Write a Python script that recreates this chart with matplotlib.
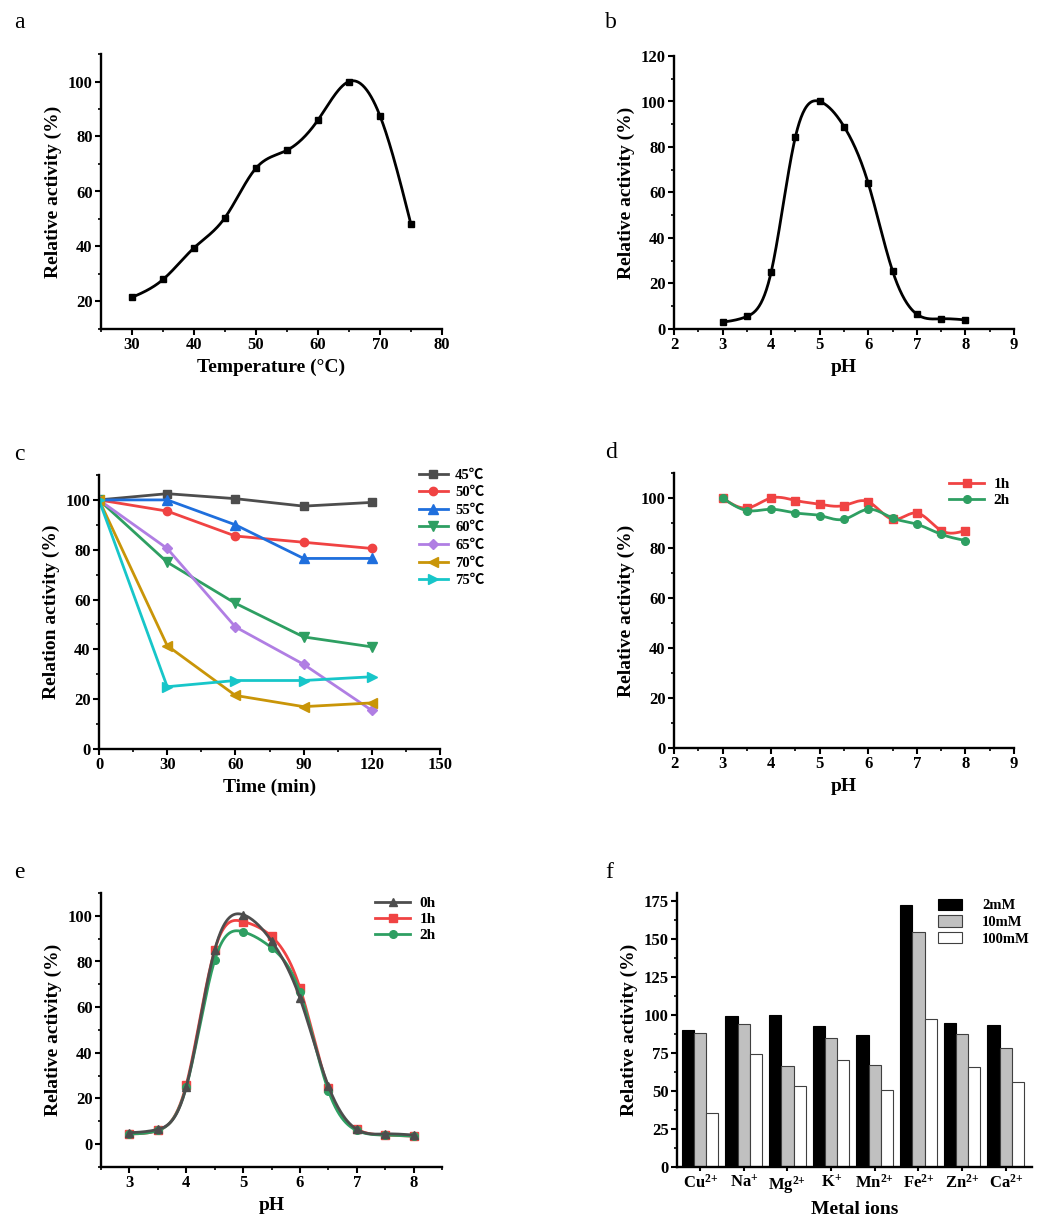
import numpy as np
import matplotlib
matplotlib.use("Agg")
import matplotlib.pyplot as plt
from matplotlib.ticker import AutoMinorLocator, MultipleLocator

plt.rcParams['font.family'] = ['Liberation Serif', 'Noto Sans CJK SC', 'DejaVu Sans']
plt.rcParams['font.weight'] = 'bold'
plt.rcParams['mathtext.fontset'] = 'custom'
plt.rcParams['mathtext.rm'] = 'Liberation Serif:bold'
plt.rcParams['mathtext.it'] = 'Liberation Serif:bold'
plt.rcParams['mathtext.bf'] = 'Liberation Serif:bold'

# ---------------- data ----------------
temp_x = [30, 35, 40, 45, 50, 55, 60, 65, 70, 75]
temp_y = [21.5, 28, 39.5, 50.5, 68.5, 75, 86, 100, 87.5, 48]

ph_x = [3, 3.5, 4, 4.5, 5, 5.5, 6, 6.5, 7, 7.5, 8]
ph_y = [3, 5.5, 25, 84.5, 100, 89, 64, 25.5, 6.5, 4.5, 4]

time_x = [0, 30, 60, 90, 120]
therm_labels = ['45℃', '50℃', '55℃', '60℃', '65℃', '70℃', '75℃']
therm_45 = [100, 102.5, 100.5, 97.5, 99]
therm_50 = [100, 95.5, 85.5, 83, 80.5]
therm_55 = [100, 100, 90, 76.5, 76.5]
therm_60 = [100, 75, 58.5, 45, 41]
therm_65 = [100, 80.5, 49, 34, 15.5]
therm_70 = [100, 41.5, 21.5, 17, 18.5]
therm_75 = [100, 25, 27.5, 27.5, 29]

phstab_1h = [100, 96, 100, 99, 97.5, 97, 98.5, 91.5, 94, 87, 87]
phstab_2h = [100, 95, 95.5, 94, 93, 91.5, 95.5, 92, 89.5, 85.5, 83]

e_0h = [5, 6.5, 25, 85, 100.5, 89, 64, 25.5, 6.5, 4.5, 4]
e_1h = [4.5, 6, 26, 85, 97.5, 91, 68.5, 24.5, 6.5, 4, 3.5]
e_2h = [4.5, 6, 25, 80.5, 93, 86, 66.5, 23.5, 6, 4, 3.5]

ions = ['Cu$^{2{+}}$', 'Na$^{{+}}$', 'Mg$^{2{+}}$', 'K$^{{+}}$', 'Mn$^{2{+}}$', 'Fe$^{2{+}}$', 'Zn$^{2{+}}$', 'Ca$^{2{+}}$']
conc_labels = ['2mM', '10mM', '100mM']
ion_2mM = [90, 99.5, 100, 92.5, 87, 172, 94.5, 93]
ion_10mM = [88, 94, 66.5, 84.5, 67, 154.5, 87.5, 78]
ion_100mM = [35.5, 74, 53, 70.5, 50.5, 97.5, 65.5, 56]


def natural_spline(x, y, n=400):
    x = np.asarray(x, float)
    y = np.asarray(y, float)
    m = len(x)
    h = np.diff(x)
    A = np.zeros((m, m))
    b = np.zeros(m)
    A[0, 0] = 1
    A[-1, -1] = 1
    for i in range(1, m - 1):
        A[i, i - 1] = h[i - 1]
        A[i, i] = 2 * (h[i - 1] + h[i])
        A[i, i + 1] = h[i]
        b[i] = 3 * ((y[i + 1] - y[i]) / h[i] - (y[i] - y[i - 1]) / h[i - 1])
    c = np.linalg.solve(A, b)
    bb = (y[1:] - y[:-1]) / h - h * (2 * c[:-1] + c[1:]) / 3
    d = (c[1:] - c[:-1]) / (3 * h)
    xs = np.linspace(x[0], x[-1], n)
    idx = np.clip(np.searchsorted(x, xs) - 1, 0, m - 2)
    dx = xs - x[idx]
    ys = y[idx] + bb[idx] * dx + c[idx] * dx ** 2 + d[idx] * dx ** 3
    return xs, ys


W, H = 1044, 1216
fig = plt.figure(figsize=(W / 100, H / 100), dpi=100)


def make_ax(l, t, r, b):
    return fig.add_axes([l / W, 1 - b / H, (r - l) / W, (b - t) / H])


def style(ax):
    for s in ['top', 'right']:
        ax.spines[s].set_visible(False)
    for s in ['left', 'bottom']:
        ax.spines[s].set_linewidth(1.7)
    ax.tick_params(which='major', direction='out', length=4, width=1.5, labelsize=12, pad=2)
    ax.tick_params(which='minor', direction='out', length=2.5, width=1.2)
    for lab in ax.get_xticklabels() + ax.get_yticklabels():
        lab.set_fontweight('bold')


LBL = dict(fontsize=14, fontweight='bold')


def bold_legend(leg):
    for t in leg.get_texts():
        t.set_fontweight('bold')


# ---------- a ----------
ax = make_ax(101, 54, 442, 329)
xs, ys = natural_spline(temp_x, temp_y)
ax.plot(xs, ys, color='black', lw=2)
ax.plot(temp_x, temp_y, 's', color='black', ms=5)
ax.set_xlim(25, 80)
ax.set_ylim(10, 110)
ax.xaxis.set_major_locator(MultipleLocator(10))
ax.set_yticks([20, 40, 60, 80, 100])
ax.xaxis.set_minor_locator(AutoMinorLocator(2))
ax.yaxis.set_minor_locator(MultipleLocator(10))
ax.set_xlabel('Temperature (°C)', **LBL)
ax.set_ylabel('Relative activity (%)', **LBL)
style(ax)

# ---------- b ----------
ax = make_ax(674, 56, 1014, 329)
xs, ys = natural_spline(ph_x, ph_y)
ax.plot(xs, ys, color='black', lw=2)
ax.plot(ph_x, ph_y, 's', color='black', ms=5)
ax.set_xlim(2, 9)
ax.set_ylim(0, 120)
ax.xaxis.set_major_locator(MultipleLocator(1))
ax.yaxis.set_major_locator(MultipleLocator(20))
ax.xaxis.set_minor_locator(AutoMinorLocator(2))
ax.yaxis.set_minor_locator(AutoMinorLocator(2))
ax.set_xlabel('pH', **LBL)
ax.set_ylabel('Relative activity (%)', **LBL)
style(ax)

# ---------- c ----------
ax = make_ax(99, 475, 440, 749)
series = [therm_45, therm_50, therm_55, therm_60, therm_65, therm_70, therm_75]
colors = ['#4d4d4d', '#f04343', '#1f6fdd', '#2e9f62', '#b07ee3', '#c99508', '#17c6c9']
markers = ['s', 'o', '^', 'v', 'D', '<', '>']
msz = [6, 6, 7, 7, 5.5, 7, 7]
for s, c, m, lab, z in zip(series, colors, markers, therm_labels, msz):
    ax.plot(time_x, s, color=c, marker=m, ms=z, lw=2, label=lab)
ax.set_xlim(0, 150)
ax.set_ylim(0, 110)
ax.xaxis.set_major_locator(MultipleLocator(30))
ax.set_yticks([0, 20, 40, 60, 80, 100])
ax.xaxis.set_minor_locator(AutoMinorLocator(2))
ax.yaxis.set_minor_locator(MultipleLocator(10))
ax.set_xlabel('Time (min)', **LBL)
ax.set_ylabel('Relation activity (%)', **LBL)
style(ax)
leg = ax.legend(loc='upper left', bbox_to_anchor=(0.92, 1.045), frameon=False,
                fontsize=10.5, handlelength=2.0, labelspacing=0.3, handletextpad=0.5,
                borderaxespad=0)
bold_legend(leg)

# ---------- d ----------
ax = make_ax(674, 473, 1014, 748)
for yv, c, m, lab in [(phstab_1h, '#f04343', 's', '1h'), (phstab_2h, '#2e9f62', 'o', '2h')]:
    xs, ys = natural_spline(ph_x, yv)
    ax.plot(xs, ys, color=c, lw=2)
    ax.plot(ph_x, yv, m, color=c, ms=5.5)
    ax.plot([], [], color=c, marker=m, ms=5.5, lw=2, label=lab)
ax.set_xlim(2, 9)
ax.set_ylim(0, 110)
ax.xaxis.set_major_locator(MultipleLocator(1))
ax.set_yticks([0, 20, 40, 60, 80, 100])
ax.xaxis.set_minor_locator(AutoMinorLocator(2))
ax.yaxis.set_minor_locator(MultipleLocator(10))
ax.set_xlabel('pH', **LBL)
ax.set_ylabel('Relative activity (%)', **LBL)
style(ax)
leg = ax.legend(loc='upper right', bbox_to_anchor=(1.005, 1.005), frameon=False,
                fontsize=11, handlelength=2.3, labelspacing=0.15, handletextpad=0.6,
                borderaxespad=0)
bold_legend(leg)

# ---------- e ----------
ax = make_ax(101, 893, 442, 1167)
for yv, c, m in [(e_1h, '#f04343', 's'), (e_2h, '#2e9f62', 'o'), (e_0h, '#4d4d4d', '^')]:
    xs, ys = natural_spline(ph_x, yv)
    ax.plot(xs, ys, color=c, lw=2)
    ax.plot(ph_x, yv, m, color=c, ms=5.5)
for yv, c, m, lab in [(e_0h, '#4d4d4d', '^', '0h'), (e_1h, '#f04343', 's', '1h'), (e_2h, '#2e9f62', 'o', '2h')]:
    ax.plot([], [], color=c, marker=m, ms=5.5, lw=2, label=lab)
ax.set_xlim(2.5, 8.5)
ax.set_ylim(-10, 110)
ax.xaxis.set_major_locator(MultipleLocator(1))
ax.set_yticks([0, 20, 40, 60, 80, 100])
ax.xaxis.set_minor_locator(AutoMinorLocator(2))
ax.yaxis.set_minor_locator(MultipleLocator(10))
ax.set_xlabel('pH', **LBL)
ax.set_ylabel('Relative activity (%)', **LBL)
style(ax)
leg = ax.legend(loc='upper right', bbox_to_anchor=(1.0, 1.01), frameon=False,
                fontsize=11, handlelength=2.3, labelspacing=0.15, handletextpad=0.6,
                borderaxespad=0)
bold_legend(leg)

# ---------- f ----------
ax = make_ax(677, 893, 1032, 1167)
xpos = np.arange(len(ions))
bw = 0.28
ax.bar(xpos - bw, ion_2mM, bw, color='black', edgecolor='black', linewidth=0.8, label=conc_labels[0])
ax.bar(xpos, ion_10mM, bw, color='#c0c0c0', edgecolor='#404040', linewidth=0.8, label=conc_labels[1])
ax.bar(xpos + bw, ion_100mM, bw, color='white', edgecolor='#404040', linewidth=0.8, label=conc_labels[2])
ax.set_xlim(-0.53, 7.6)
ax.set_ylim(0, 180)
ax.set_xticks(xpos)
ax.set_xticklabels(ions)
ax.yaxis.set_major_locator(MultipleLocator(25))
ax.yaxis.set_minor_locator(AutoMinorLocator(2))
ax.set_xlabel('Metal ions', **LBL)
ax.set_ylabel('Relative activity (%)', **LBL)
style(ax)
ax.tick_params(axis='x', which='major', length=3)
leg = ax.legend(loc='upper right', bbox_to_anchor=(1.01, 1.0), frameon=False,
                fontsize=10.5, handlelength=1.6, handleheight=0.8, labelspacing=0.2,
                handletextpad=1.4, borderaxespad=0)
bold_legend(leg)

# panel letters
for lt, x, y in [('a', 14, 22), ('b', 605, 22), ('c', 14, 455), ('d', 605, 453), ('e', 14, 873), ('f', 605, 873)]:
    fig.text(x / W, 1 - y / H, lt, fontsize=17, fontweight='normal', va='center', ha='left')

fig.savefig('out.png', dpi=100)
